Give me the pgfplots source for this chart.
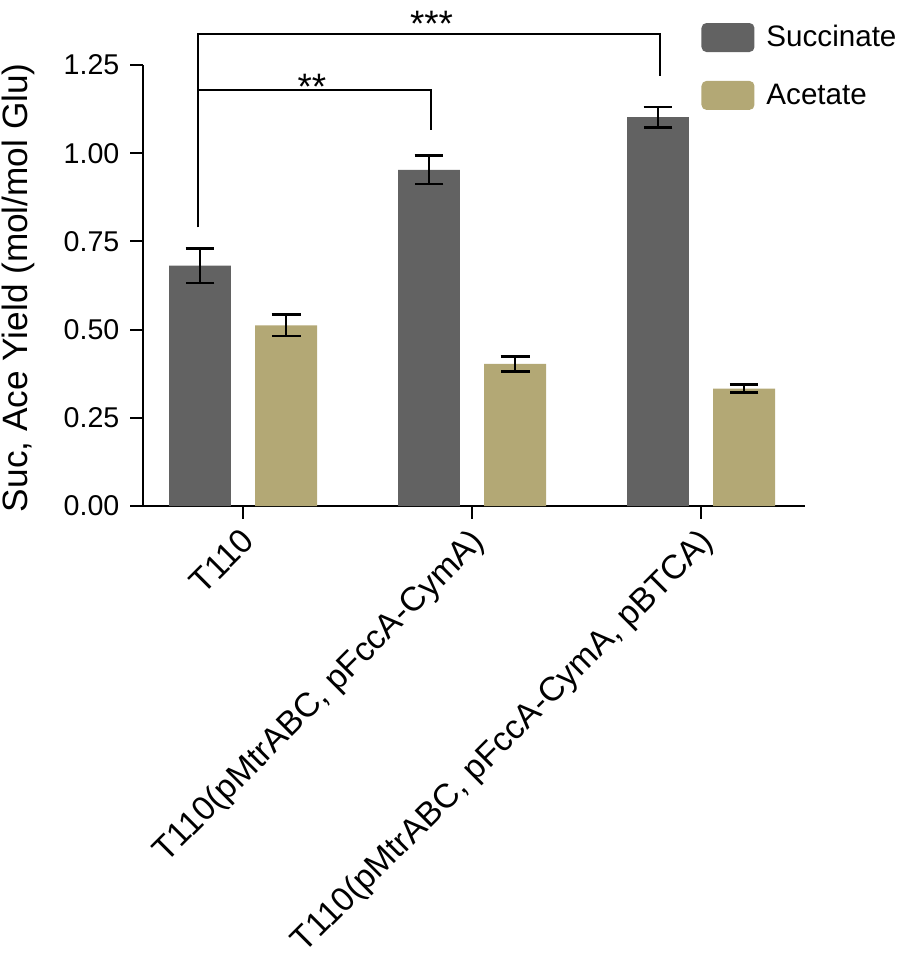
\documentclass[border=0pt]{standalone}
\usepackage{pgfplots}
\pgfplotsset{compat=1.18}
\usepackage{fontspec}
\setmainfont{Liberation Sans}
\definecolor{sucgrey}{RGB}{98,98,98}
\definecolor{acetan}{RGB}{179,168,117}
\begin{document}
\begin{tikzpicture}
\useasboundingbox (-71.5pt,-228pt) rectangle (377.5pt,253pt);
\begin{axis}[
  at={(0,0)}, anchor=south west,
  scale only axis, width=331pt, height=220.5pt,
  xmin=-0.437, xmax=2.454, ymin=0, ymax=1.25,
  axis x line=bottom, axis y line=left,
  axis line style={line width=1pt, -},
  every tick/.style={black, line width=1pt},
  tick align=outside, major tick length=6.3pt,
  xtick={0,1,2},
  xticklabels={T110, {T110(pMtrABC, pFccA-CymA)}, {T110(pMtrABC, pFccA-CymA, pBTCA)}},
  xticklabel style={xshift=-1.75pt, yshift=-3.55pt, rotate=45, anchor=north east, inner sep=0pt, font=\fontsize{16.9}{20}\selectfont},
  ytick={0,0.25,0.5,0.75,1,1.25},
  yticklabel style={xshift=-2pt, font=\fontsize{14.3}{17}\selectfont, /pgf/number format/fixed, /pgf/number format/fixed zerofill, /pgf/number format/precision=2, /pgf/number format/assume math mode=true},
  ylabel={Suc, Ace Yield (mol/mol Glu)},
  every axis y label/.style={at={(axis description cs:-0.188,0.495)}, rotate=90, anchor=center, font=\fontsize{17.6}{20}\selectfont},
  ybar, bar width=0.27,
  clip=false,
  legend style={at={(rel axis cs:0.843,1.1)}, anchor=north west, draw=none, fill=none,
    inner sep=0pt, row sep=13pt, font=\fontsize{14.8}{17}\selectfont},
  legend cell align=left,
  legend image code/.code={\draw[#1, draw=none, rounded corners=2.5pt] (0pt,-7.25pt) rectangle (26.5pt,7.25pt); \path (30.5pt,0pt);},
  error bars/error bar style={line width=1.3pt, black},
  error bars/error mark options={rotate=90, mark size=7.2pt, line width=1.3pt, black},
]
\addplot[fill=sucgrey, draw=none, bar shift=-0.188, error bars/.cd, y dir=both, y explicit]
  coordinates {(0,0.681) +- (0,0.049) (1,0.953) +- (0,0.040) (2,1.102) +- (0,0.029)};
\addlegendentry{Succinate}
\addplot[fill=acetan, draw=none, bar shift=0.188, error bars/.cd, y dir=both, y explicit]
  coordinates {(0,0.512) +- (0,0.030) (1,0.403) +- (0,0.021) (2,0.333) +- (0,0.011)};
\addlegendentry{Acetate}
\draw[line width=1pt] (axis cs:-0.195,0.79) -- (axis cs:-0.195,1.338) -- (axis cs:1.82,1.338) -- (axis cs:1.82,1.219);
\draw[line width=1pt] (axis cs:-0.195,1.18) -- (axis cs:0.82,1.18) -- (axis cs:0.82,1.065);
\node[font=\fontsize{18.4}{20}\selectfont, inner sep=0pt] at (axis cs:0.301,1.188) {**};
\node[font=\fontsize{18.4}{20}\selectfont, inner sep=0pt] at (axis cs:0.823,1.366) {***};
\end{axis}
\end{tikzpicture}
\end{document}
